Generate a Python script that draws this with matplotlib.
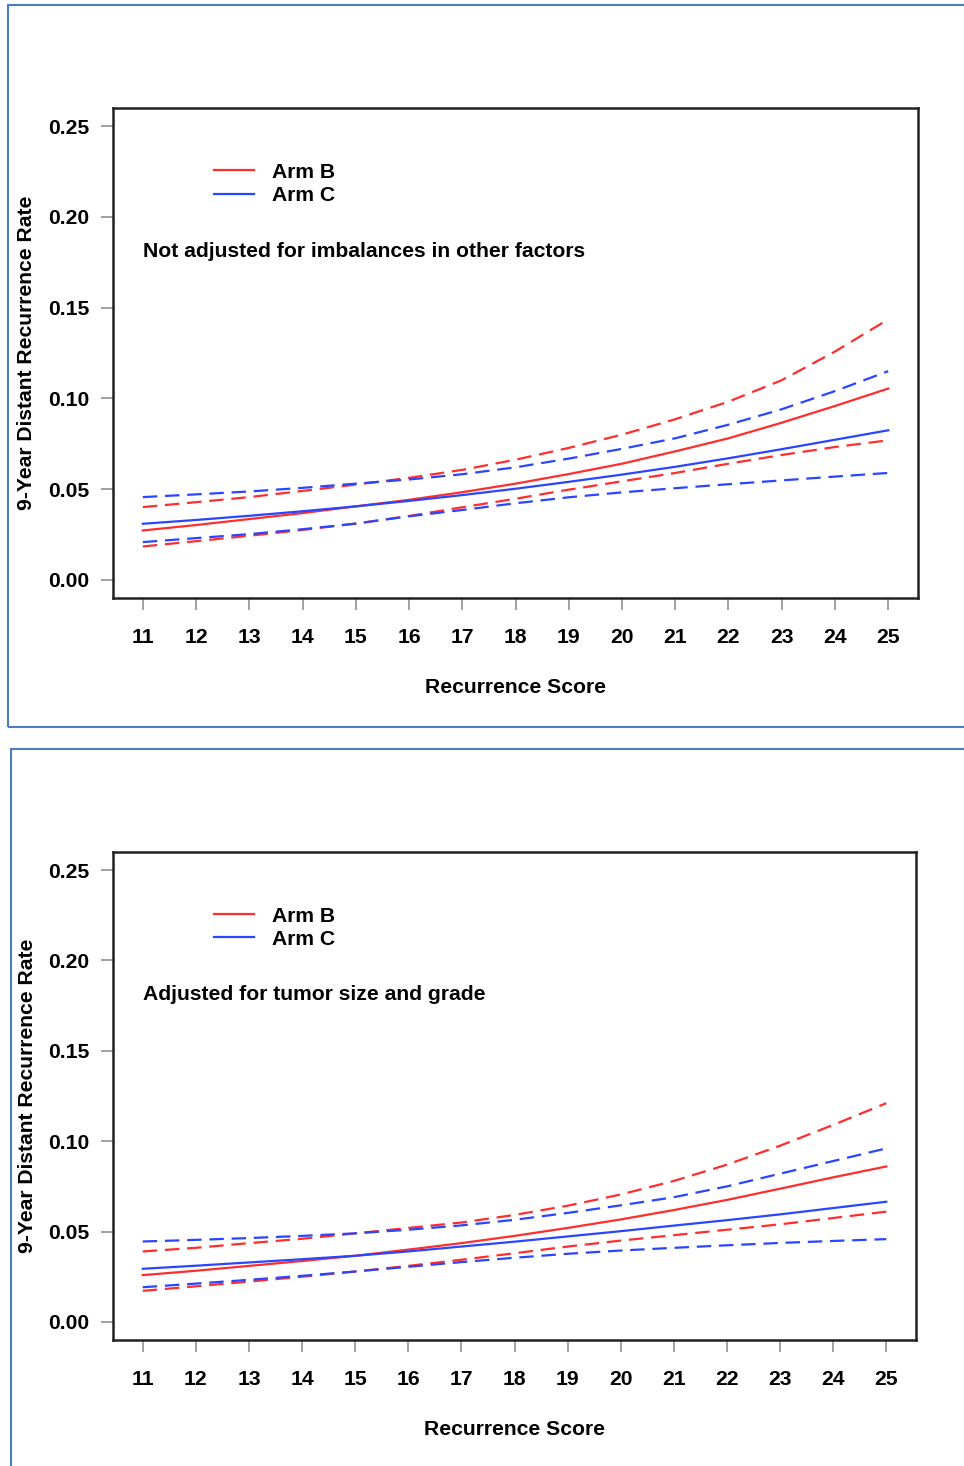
import numpy as np
import matplotlib
matplotlib.use("Agg")
import matplotlib.pyplot as plt
from matplotlib.patches import Rectangle

plt.rcParams['font.family'] = ['Liberation Sans', 'DejaVu Sans']
plt.rcParams['font.weight'] = 'bold'

# recurrence score grid
rs = [11, 12, 13, 14, 15, 16, 17, 18, 19, 20, 21, 22, 23, 24, 25]

# panel 1: not adjusted
armB_mid_1 = [0.0272, 0.0302, 0.0335, 0.0368, 0.0405, 0.0441, 0.0483, 0.0530, 0.0583, 0.0640, 0.0708, 0.0780, 0.0866, 0.0958, 0.1054]
armB_hi_1 = [0.0401, 0.0428, 0.0456, 0.0490, 0.0525, 0.0562, 0.0606, 0.0662, 0.0727, 0.0800, 0.0885, 0.0982, 0.1100, 0.1258, 0.1435]
armB_lo_1 = [0.0184, 0.0213, 0.0243, 0.0275, 0.0310, 0.0352, 0.0400, 0.0447, 0.0497, 0.0543, 0.0589, 0.0640, 0.0688, 0.0732, 0.0769]
armC_mid_1 = [0.0309, 0.0330, 0.0353, 0.0378, 0.0405, 0.0435, 0.0467, 0.0502, 0.0540, 0.0580, 0.0623, 0.0670, 0.0720, 0.0772, 0.0824]
armC_hi_1 = [0.0456, 0.0471, 0.0487, 0.0507, 0.0530, 0.0553, 0.0582, 0.0620, 0.0668, 0.0722, 0.0780, 0.0855, 0.0940, 0.1040, 0.1150]
armC_lo_1 = [0.0208, 0.0230, 0.0252, 0.0279, 0.0310, 0.0350, 0.0385, 0.0422, 0.0455, 0.0482, 0.0505, 0.0527, 0.0548, 0.0569, 0.0589]

# panel 2: adjusted for tumor size and grade
armB_mid_2 = [0.0259, 0.0283, 0.0310, 0.0337, 0.0366, 0.0400, 0.0436, 0.0476, 0.0520, 0.0567, 0.0619, 0.0675, 0.0737, 0.0800, 0.0860]
armB_hi_2 = [0.0390, 0.0410, 0.0436, 0.0460, 0.0490, 0.0520, 0.0550, 0.0592, 0.0643, 0.0705, 0.0780, 0.0870, 0.0975, 0.1090, 0.1210]
armB_lo_2 = [0.0172, 0.0197, 0.0223, 0.0250, 0.0279, 0.0310, 0.0344, 0.0380, 0.0417, 0.0450, 0.0480, 0.0510, 0.0540, 0.0575, 0.0610]
armC_mid_2 = [0.0294, 0.0311, 0.0329, 0.0347, 0.0366, 0.0390, 0.0417, 0.0444, 0.0473, 0.0502, 0.0533, 0.0563, 0.0595, 0.0630, 0.0665]
armC_hi_2 = [0.0445, 0.0454, 0.0464, 0.0476, 0.0490, 0.0510, 0.0534, 0.0565, 0.0603, 0.0645, 0.0690, 0.0750, 0.0820, 0.0890, 0.0960]
armC_lo_2 = [0.0192, 0.0212, 0.0233, 0.0255, 0.0279, 0.0305, 0.0331, 0.0355, 0.0377, 0.0395, 0.0410, 0.0424, 0.0437, 0.0448, 0.0458]

yticks = [0.00, 0.05, 0.10, 0.15, 0.20, 0.25]
ytick_labels = ["0.00", "0.05", "0.10", "0.15", "0.20", "0.25"]
notes = ["Not adjusted for imbalances in other factors", "Adjusted for tumor size and grade"]

RED = '#ff2d2d'
BLUE = '#2a45ff'
FS = 15.2

W, H = 964, 1466
fig = plt.figure(figsize=(W / 100, H / 100), dpi=100)

# blue frames around each panel
fig.patches.append(Rectangle((8 / W, 1 - 727 / H), (W + 10 - 8) / W, (727 - 5) / H,
                             transform=fig.transFigure, fill=False, ec='#4a7bc8', lw=1.5))
fig.patches.append(Rectangle((11 / W, 1 - (H + 10) / H), (W + 10 - 11) / W, (H + 10 - 749) / H,
                             transform=fig.transFigure, fill=False, ec='#4a7bc8', lw=1.5))


def panel(rect, mid_b, hi_b, lo_b, mid_c, hi_c, lo_c, note):
    ax = fig.add_axes(rect)
    dash = (0, (6.5, 3.5))
    ax.plot(rs, hi_b, color=RED, lw=1.6, linestyle=dash)
    ax.plot(rs, lo_b, color=RED, lw=1.6, linestyle=dash)
    ax.plot(rs, hi_c, color=BLUE, lw=1.6, linestyle=dash)
    ax.plot(rs, lo_c, color=BLUE, lw=1.6, linestyle=dash)
    ax.plot(rs, mid_b, color=RED, lw=1.6, label='Arm B')
    ax.plot(rs, mid_c, color=BLUE, lw=1.6, label='Arm C')

    ax.set_xlim(10.44, 25.56)
    ax.set_ylim(-0.01, 0.26)
    ax.set_xticks(rs)
    ax.set_xticklabels([str(v) for v in rs], fontsize=FS, fontweight='bold')
    ax.set_yticks(yticks)
    ax.set_yticklabels(ytick_labels, fontsize=FS, fontweight='bold')
    ax.tick_params(axis='both', direction='out', length=8.5, width=1.1, color='#888888')
    ax.tick_params(axis='x', pad=13)
    ax.tick_params(axis='y', pad=8.5)
    for s in ax.spines.values():
        s.set_linewidth(1.8)
        s.set_color('#222222')

    ax.set_xlabel('Recurrence Score', fontsize=FS, fontweight='bold', va='center')
    ax.xaxis.set_label_coords(0.5, -0.183)
    ax.set_ylabel('9-Year Distant Recurrence Rate', fontsize=FS, fontweight='bold', va='center')
    ax.yaxis.set_label_coords(-0.107, 0.5)

    ax.legend(loc='upper left', bbox_to_anchor=(0.1255, 0.888), frameon=False,
              prop={'size': FS, 'weight': 'bold'}, handlelength=1.9, handletextpad=0.85,
              labelspacing=0.2, borderpad=0, borderaxespad=0)
    ax.text(0.0373, 0.708, note, transform=ax.transAxes, fontsize=FS,
            fontweight='bold', va='center', ha='left')
    return ax


panel([113 / W, 1 - 598 / H, 805 / W, 490 / H],
      armB_mid_1, armB_hi_1, armB_lo_1, armC_mid_1, armC_hi_1, armC_lo_1, notes[0])
panel([113 / W, 1 - 1340 / H, 803 / W, 488 / H],
      armB_mid_2, armB_hi_2, armB_lo_2, armC_mid_2, armC_hi_2, armC_lo_2, notes[1])

fig.savefig('out.png', dpi=100)
